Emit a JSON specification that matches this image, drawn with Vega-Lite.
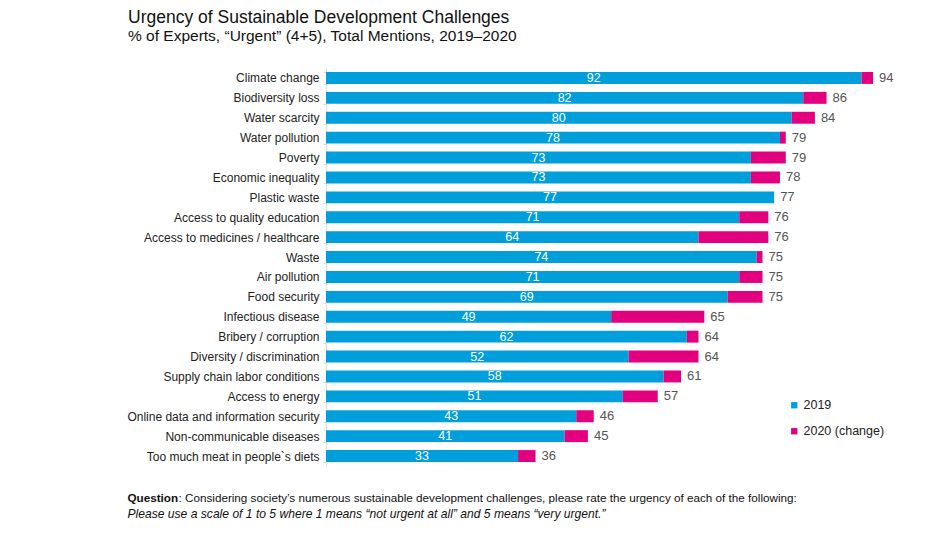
{
  "$schema": "https://vega.github.io/schema/vega-lite/v6.json",
  "autosize": {"type": "none"},
  "width": 582,
  "height": 398,
  "padding": {"left": 326, "top": 68, "right": 42, "bottom": 72},
  "background": "white",
  "config": {
    "view": {"stroke": null},
    "font": "Liberation Sans"
  },
  "title": {
    "text": "Urgency of Sustainable Development Challenges",
    "subtitle": "% of Experts, “Urgent” (4+5), Total Mentions, 2019–2020",
    "anchor": "start",
    "frame": "group",
    "dx": -198,
    "offset": 18,
    "font": "Liberation Sans",
    "fontSize": 17.5,
    "fontWeight": "normal",
    "color": "#111111",
    "subtitleFont": "Liberation Sans",
    "subtitleFontSize": 15.5,
    "subtitleColor": "#111111",
    "subtitlePadding": 2
  },
  "data": {
    "values": [
      {"item": "Climate change", "v2019": 92, "v2020": 94},
      {"item": "Biodiversity loss", "v2019": 82, "v2020": 86},
      {"item": "Water scarcity", "v2019": 80, "v2020": 84},
      {"item": "Water pollution", "v2019": 78, "v2020": 79},
      {"item": "Poverty", "v2019": 73, "v2020": 79},
      {"item": "Economic inequality", "v2019": 73, "v2020": 78},
      {"item": "Plastic waste", "v2019": 77, "v2020": 77},
      {"item": "Access to quality education", "v2019": 71, "v2020": 76},
      {"item": "Access to medicines / healthcare", "v2019": 64, "v2020": 76},
      {"item": "Waste", "v2019": 74, "v2020": 75},
      {"item": "Air pollution", "v2019": 71, "v2020": 75},
      {"item": "Food security", "v2019": 69, "v2020": 75},
      {"item": "Infectious disease", "v2019": 49, "v2020": 65},
      {"item": "Bribery / corruption", "v2019": 62, "v2020": 64},
      {"item": "Diversity / discrimination", "v2019": 52, "v2020": 64},
      {"item": "Supply chain labor conditions", "v2019": 58, "v2020": 61},
      {"item": "Access to energy", "v2019": 51, "v2020": 57},
      {"item": "Online data and information security", "v2019": 43, "v2020": 46},
      {"item": "Non-communicable diseases", "v2019": 41, "v2020": 45},
      {"item": "Too much meat in people`s diets", "v2019": 33, "v2020": 36}
    ]
  },
  "encoding": {
    "y": {
      "field": "item",
      "type": "nominal",
      "sort": null,
      "scale": {"paddingInner": 0.4, "paddingOuter": 0.2},
      "axis": {
        "title": null,
        "domainColor": "#dddddd",
        "tickColor": "#dddddd",
        "tickBand": "extent",
        "tickSize": 3,
        "labelPadding": 4,
        "labelLimit": 320,
        "labelFont": "Liberation Sans",
        "labelFontSize": 12,
        "labelColor": "#222222"
      }
    }
  },
  "resolve": {"axis": {"x": "independent"}},
  "layer": [
    {
      "mark": {"type": "bar"},
      "encoding": {
        "x": {
          "field": "v2019",
          "type": "quantitative",
          "scale": {"domain": [0, 100], "nice": false},
          "axis": {
            "orient": "bottom",
            "domain": false, "ticks": false, "labels": false, "grid": false,
            "title": "Question",
            "titleFont": "Liberation Sans",
            "titleFontSize": 11.7,
            "titleFontWeight": "bold",
            "titleColor": "#111111",
            "titleAnchor": "start",
            "titleAlign": "left",
            "titleBaseline": "alphabetic",
            "titleX": -199,
            "titleY": 35
          }
        },
        "color": {
          "datum": "2019",
          "type": "nominal",
          "scale": {"domain": ["2019", "2020 (change)"], "range": ["#009EDB", "#E2007F"]},
          "legend": {
            "title": null,
            "orient": "none",
            "legendX": 462,
            "legendY": 331,
            "symbolType": "square",
            "symbolSize": 40,
            "symbolStrokeWidth": 0,
            "rowPadding": 13,
            "labelFont": "Liberation Sans",
            "labelFontSize": 12.5,
            "labelColor": "#222222",
            "labelOffset": 3
          }
        }
      }
    },
    {
      "mark": {"type": "bar"},
      "encoding": {
        "x": {
          "field": "v2019",
          "type": "quantitative",
          "axis": {
            "orient": "bottom",
            "domain": false, "ticks": false, "labels": false, "grid": false,
            "title": ": Considering society’s numerous sustainable development challenges, please rate the urgency of each of the following:",
            "titleFont": "Liberation Sans",
            "titleFontSize": 11.7,
            "titleFontWeight": "normal",
            "titleColor": "#111111",
            "titleAnchor": "start",
            "titleAlign": "left",
            "titleBaseline": "alphabetic",
            "titleX": -148,
            "titleY": 35
          }
        },
        "x2": {"field": "v2020"},
        "color": {"datum": "2020 (change)", "type": "nominal"}
      }
    },
    {
      "transform": [{"calculate": "datum.v2019 / 2", "as": "mid"}],
      "mark": {"type": "text", "color": "white", "fontSize": 12.5, "font": "Liberation Sans", "align": "center", "baseline": "middle"},
      "encoding": {
        "x": {
          "field": "mid",
          "type": "quantitative",
          "axis": {
            "orient": "bottom",
            "domain": false, "ticks": false, "labels": false, "grid": false,
            "title": "Please use a scale of 1 to 5 where 1 means “not urgent at all” and 5 means “very urgent.”",
            "titleFont": "Liberation Sans",
            "titleFontSize": 12.1,
            "titleFontWeight": "normal",
            "titleFontStyle": "italic",
            "titleColor": "#111111",
            "titleAnchor": "start",
            "titleAlign": "left",
            "titleBaseline": "alphabetic",
            "titleX": -199,
            "titleY": 51
          }
        },
        "text": {"field": "v2019", "type": "quantitative"}
      }
    },
    {
      "mark": {"type": "text", "color": "#555555", "fontSize": 13, "font": "Liberation Sans", "align": "left", "baseline": "middle", "dx": 6},
      "encoding": {
        "x": {"field": "v2020", "type": "quantitative", "axis": null},
        "text": {"field": "v2020", "type": "quantitative"}
      }
    }
  ]
}
